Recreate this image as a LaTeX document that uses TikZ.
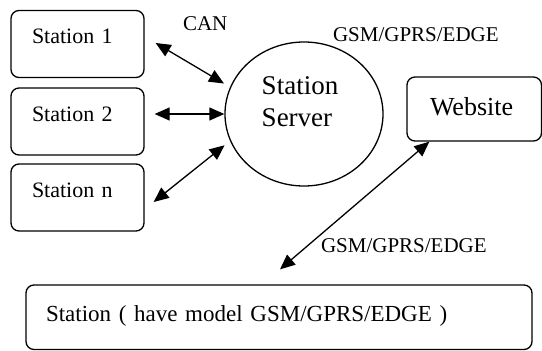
\documentclass[tikz,border=0pt]{standalone}
\usepackage{fontspec}
\setmainfont{Liberation Serif}
\usetikzlibrary{shapes.geometric}
\usetikzlibrary{arrows.meta}
\usetikzlibrary{positioning}

\begin{document}
\begin{tikzpicture}[x=1pt,y=-1pt,
    box/.style={draw,rounded corners=8pt,line width=1.3pt,inner ysep=0pt,align=left},
    stn/.style={box,inner xsep=21pt,text width=91pt,text height=33pt,text depth=34pt,font=\fontsize{22}{26}\selectfont},
    lbl/.style={anchor=base west,inner sep=0,outer sep=0,font=\fontsize{21}{25}\selectfont},
    link/.style={<->,line width=1.3pt,>={Triangle[length=15pt,width=13pt]}}]
    \useasboundingbox (0,0) rectangle (542,351);
    \node(s1)[stn] at (77.5,44) {Station 1};
    \node(s2)[stn] at ([shift={(0,77.5)}]s1) {Station 2};
    \node(sn)[stn] at ([shift={(0,76)}]s2) {Station n};
    \node(srv)[draw,ellipse,line width=1.3pt,minimum width=158pt,minimum height=144pt,inner sep=0,
        label={[align=left,xshift=-4pt,yshift=12.5pt,font=\fontsize{27}{32}\selectfont]center:Station\\Server}] at (304,114) {};
    \node(web)[box,inner xsep=23pt,text width=88.5pt,text height=38pt,text depth=26pt,font=\fontsize{26}{30}\selectfont] at (474.25,109) {Website};
    \node(st)[box,inner xsep=20pt,text width=466pt,text height=36pt,text depth=28.5pt,font=\fontsize{23}{27}\selectfont] at (279,317.25) {Station ( have model GSM/GPRS/EDGE )};

    \node(can)[lbl] at (183,30) {CAN};
    \node(gsm1)[lbl] at (333,41) {GSM/GPRS/EDGE};
    \node(gsm2)[lbl] at (321,252) {GSM/GPRS/EDGE};

    \draw[link,shorten >=7pt] ([shift={(11,-1)}]s1.east) -- (srv.160);
    \draw[link] ([shift={(10,-7.5)}]s2.east) -- (srv.west);
    \draw[link,shorten >=7pt] ([shift={(9,4.5)}]sn.east) -- (srv.200);
    \draw[link] ([xshift=23pt]web.south west) -- ([shift={(1,-15)}]st.north);
\end{tikzpicture}
\end{document}
